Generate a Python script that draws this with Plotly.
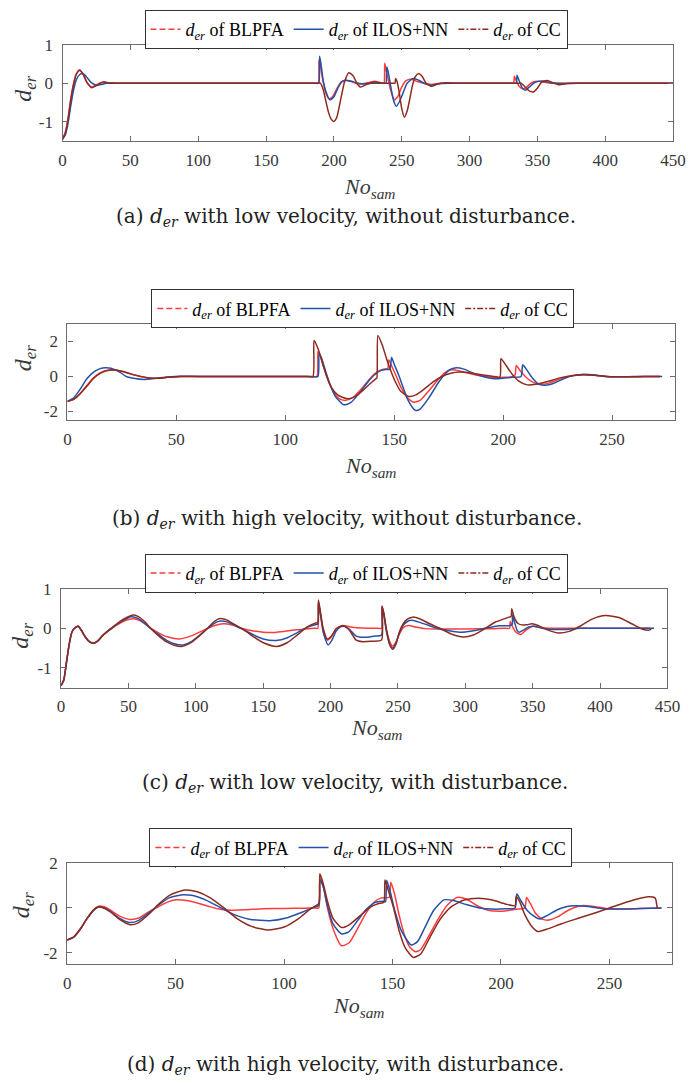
import plotly.graph_objects as go

# ---------------- data ----------------
SERIES_NAMES = ["<i>d</i><sub><i>er</i></sub> of BLPFA",
                "<i>d</i><sub><i>er</i></sub> of ILOS+NN",
                "<i>d</i><sub><i>er</i></sub> of CC"]

X_TICKS_450 = [0, 50, 100, 150, 200, 250, 300, 350, 400, 450]
X_TICKS_280 = [0, 50, 100, 150, 200, 250]
Y_TICKS_1 = [-1, 0, 1]
Y_TICKS_1_TEXT = ["-1", "0", "1"]
Y_TICKS_2 = [-2, 0, 2]
Y_TICKS_2_TEXT = ["-2", "0", "2"]

CAPTIONS = [
    "(a) <i>d</i><sub><i>er</i></sub> with low velocity, without disturbance.",
    "(b) <i>d</i><sub><i>er</i></sub> with high velocity, without disturbance.",
    "(c) <i>d</i><sub><i>er</i></sub> with low velocity, with disturbance.",
    "(d) <i>d</i><sub><i>er</i></sub> with high velocity, with disturbance.",
]

# panel (a): low velocity, without disturbance
A_BLPFA = [(0,-1.45),(2,-1.28),(4,-0.92),(6,-0.42),(8,-0.03),(10,0.23),(12.5,0.33),(15,0.24),(18,0.02),
           (21.5,-0.1),(25,-0.04),(30,0.03),(35,0.0),(50,0.0),(80,0.0),(120,0.0),(160,0.0),(180,0.0),(186,0.0),
           (188.5,0.0),(189,0.6),(190,0.45),(192,0.05),(194,-0.25),
           (196.5,-0.4),(199,-0.35),(202,-0.15),(205,0.02),(208,0.08),(212,0.05),(216,0.0),(220,-0.02),(226,0.02),
           (230,0.05),(234,0.02),(236,0.0),(237,0.0),(237.5,0.52),(238.5,0.35),(240,0.1),(242,-0.2),(244.5,-0.43),
           (247,-0.35),(250,-0.1),(253,0.06),(257,0.1),(261,0.05),(266,0.0),(272,-0.03),(278,0.0),(290,0.0),
           (310,0.0),(325,0.0),(331,0.0),(332.5,0.0),(333,0.18),(334,0.1),(336.5,-0.08),(339.5,-0.15),(342,-0.1),
           (346,0.02),(351,0.05),(356,0.02),(362,0.0),(380,0.0),(410,0.0),(450,0.0)]
A_ILOS = [(0,-1.45),(2,-1.35),(4,-1.05),(6,-0.6),(8,-0.2),(10,0.08),(12.5,0.22),(15,0.25),(18,0.15),(21,0.02),
          (25,-0.05),(29,-0.03),(34,0.01),(40,0.0),(60,0.0),(90,0.0),(120,0.0),(150,0.0),(175,0.0),(185,0.0),
          (188,0.0),(189,0.0),(189.5,0.7),(190.5,0.5),(192,0.1),(194,-0.2),(197,-0.43),
          (200,-0.35),(203,-0.12),(206,0.04),(209,0.08),(213,0.05),(218,0.0),(222,-0.02),(228,0.0),(233,0.0),
          (236,0.0),(238,0.0),(238.5,0.0),(239,0.42),(240,0.3),(242,-0.1),(244,-0.45),(246,-0.6),(248,-0.5),
          (251,-0.25),(254,0.0),(258.5,0.12),(263,0.07),(267,-0.01),(272,-0.05),(278,-0.01),(285,0.0),(300,0.0),
          (320,0.0),(330,0.0),(333.5,0.0),(334.5,0.0),(335,0.21),(336,0.12),(338.5,-0.1),
          (341,-0.18),(344,-0.1),(348,0.02),(354,0.06),(360,0.01),(367,-0.01),(375,0.0),(400,0.0),(430,0.0),
          (450,0.0)]
A_CC = [(0,-1.45),(2,-1.3),(4,-0.95),(6,-0.45),(8,-0.05),(10,0.22),(12.5,0.34),(15,0.25),(18,0.02),(21.5,-0.12),
        (25,-0.06),(30,0.035),(35,0.0),(40,0.0),(70,0.0),(100,0.0),(130,0.0),(160,0.0),(180,0.0),(187,0.0),
        (190,0.0),(192,-0.15),(194,-0.45),(196,-0.75),(198,-0.93),(200,-0.99),
        (202,-0.9),(204,-0.6),(206,-0.25),(208,0.05),(211,0.27),(214,0.2),(217,0.0),(219.5,-0.1),(223,-0.05),
        (229.5,0.03),(235,0.0),(240,0.0),(243,0.0),(245,0.0),(245.5,0.12),(246.5,0.05),(248,-0.2),(250,-0.65),
        (252,-0.88),(254,-0.72),(256,-0.4),(258,-0.05),(260,0.17),(262.5,0.25),(265,0.18),(268,0.0),(272,-0.08),
        (276,-0.03),(282,0.01),(290,0.0),(310,0.0),(325,0.0),(335,0.0),(338,0.0),(341,-0.1),(344,-0.2),
        (347.5,-0.22),(350,-0.13),(353,0.02),(357,0.07),(361,0.02),(366,-0.04),(372,-0.01),(380,0.0),(410,0.0),
        (450,0.0)]

# panel (b): high velocity, without disturbance
B_BLPFA = [(0,-1.43),(3,-1.3),(6,-0.95),(9,-0.5),(12,-0.08),(15,0.2),(18,0.35),(21,0.38),(25,0.3),(29,0.15),
           (33,0.01),(37,-0.08),(41,-0.1),(46,-0.05),(52,0.0),(65,0.0),(80,0.0),(95,0.0),(105,0.0),(111,0.0),
           (114.5,0.0),(115,1.45),(116,1.2),(118,0.4),(120,-0.3),
           (122,-0.85),(124.5,-1.25),(127.5,-1.37),(131,-1.2),(135,-0.7),(139,-0.1),(142,0.25),(145,0.42),(147,0.45),
           (147.5,0.95),(149,0.55),(151,0.0),(153,-0.6),(156,-1.2),(159,-1.47),(162,-1.35),(166,-0.8),(170,-0.2),
           (173,0.2),(176,0.38),(180,0.32),(185,0.15),(190,0.03),(195,-0.04),(200,-0.05),(204,-0.02),(205.5,0.1),
           (206,0.63),(208,0.3),(211,-0.1),(214,-0.35),(217,-0.45),(221,-0.38),(226,-0.15),(231,0.02),(236,0.1),
           (241,0.08),(247,0.0),(255,-0.02),(265,0.0),(272,0.0)]
B_ILOS = [(0,-1.43),(3,-1.2),(6,-0.7),(9,-0.12),(12,0.25),(15,0.45),(17.5,0.5),(20,0.47),(24,0.25),(27,0.0),
          (31,-0.12),(35,-0.17),(40,-0.12),(46,-0.03),(52,0.02),(60,0.0),(75,0.0),(90,0.0),(105,0.0),(112,0.0),
          (115,0.0),(115.5,1.3),(116.5,1.1),
          (118.5,0.3),(120.5,-0.45),(123,-1.15),(126.9,-1.62),(130,-1.5),(134,-0.95),(138,-0.3),(141,0.1),(144,0.35),
          (146,0.4),(148,0.42),(148.8,1.09),(150,0.7),(152,0.1),(154,-0.6),(156.5,-1.4),(159.7,-1.94),(162,-1.85),
          (166,-1.2),(170,-0.4),(173,0.1),(176,0.42),(178.5,0.5),(182,0.42),(187,0.15),(192,-0.05),(196,-0.13),
          (200,-0.1),(204,-0.04),(208.2,0.0),(209,0.67),(211,0.35),(213.5,-0.1),(216.5,-0.45),(219.5,-0.5),
          (223,-0.4),(228,-0.12),(232,0.05),(236,0.12),(241,0.1),(246,0.02),(252,-0.02),(260,0.0),(273,0.0)]
B_CC = [(0,-1.43),(3,-1.3),(6,-0.97),(9,-0.55),(12,-0.1),(15,0.18),(18,0.33),(21,0.37),(25,0.3),(29,0.15),
        (33,0.02),(37,-0.07),(41,-0.1),(46,-0.05),(52,0.0),(65,0.0),(80,0.0),(95,0.0),(105,0.0),(110,0.0),
        (112.7,0.0),(113.2,2.06),(115,1.6),(117,0.8),(119,0.0),
        (121,-0.6),(124,-1.05),(128.5,-1.28),(132,-1.15),(136,-0.75),(139,-0.4),(141.5,-0.13),(142,-0.1),
        (142.5,2.35),(144.5,1.8),(146.5,1.0),(148.5,0.3),(150.5,-0.3),(153,-0.85),(156.7,-1.14),(160,-1.05),
        (164,-0.7),(168,-0.3),(172,0.0),(176,0.18),(180,0.25),(185,0.2),(190,0.1),(195,0.02),(198.5,-0.04),
        (199,1.01),(201.5,0.6),(204,0.15),(207,-0.25),(211,-0.48),(215,-0.45),(220,-0.3),(226,-0.08),(232,0.06),
        (237,0.1),(242,0.07),(248,0.0),(256,-0.02),(265,0.0),(272,0.0)]

# panel (c): low velocity, with disturbance
C_BLPFA = [(0,-1.45),(2,-1.3),(4,-0.85),(6,-0.4),(8,-0.1),(10,0.0),(12.7,0.05),(15,-0.05),(18,-0.22),(21,-0.34),
           (24,-0.38),(27,-0.32),(31,-0.18),(36,-0.05),(41,0.07),(46,0.17),(50,0.22),(54,0.24),(58,0.2),(63,0.1),
           (68,-0.03),(74,-0.15),(80,-0.23),(88,-0.27),(96,-0.2),(104,-0.08),(110,0.02),(116,0.09),(121,0.11),
           (127,0.08),(134,0.0),(141,-0.06),(150,-0.1),(157,-0.11),(165,-0.08),(175,-0.04),(183,-0.01),(188,0.0),
           (190.5,0.0),(191,0.62),(192.5,0.35),(194.5,-0.1),(197.5,-0.3),(200.5,-0.22),(204,-0.02),(209,0.07),
           (214,0.04),(220,0.01),(228,0.0),(234,0.0),(237.8,0.0),(238.2,0.52),(239.5,0.35),(241.5,-0.05),
           (244,-0.35),(246,-0.45),(248.5,-0.35),(251,-0.15),(254,0.02),(258,0.07),(263,0.03),(270,-0.01),
           (280,-0.02),(300,-0.02),(320,-0.01),(328,0.0),(332.8,0.0),(333.3,0.17),(334.5,0.08),(337,-0.08),
           (341,-0.16),(345,-0.05),(350,0.05),(355,0.02),(362,0.0),(380,0.0),(400,0.0),(420,0.0),(437,0.0)]
C_ILOS = [(0,-1.45),(2,-1.32),(4,-0.88),(6,-0.42),(8,-0.1),(10,0.0),(12.7,0.05),(15,-0.05),(18,-0.22),(21,-0.34),
          (24,-0.38),(27,-0.33),(31,-0.18),(36,-0.04),(41,0.09),(46,0.2),(51.9,0.29),(56,0.26),(61,0.15),(66,0.0),
          (72,-0.15),(78,-0.3),(84,-0.39),(90.6,-0.42),(97,-0.33),(103,-0.17),(109,0.0),(114,0.13),(118.4,0.18),
          (123,0.16),(129,0.07),(136,-0.05),(143,-0.17),(150,-0.27),(159.5,-0.31),(168,-0.24),(176,-0.1),(183,0.03),
          (188.6,0.09),(190.5,0.1),(191,0.66),(192.5,0.35),(195,-0.15),(198.2,-0.42),(201,-0.3),(204,-0.08),
          (207,0.03),(210,0.05),(214,-0.03),(219,-0.2),(225,-0.23),(232,-0.2),(237.8,-0.17),(238.2,0.55),
          (239.5,0.35),(241.5,-0.1),(244,-0.42),(246,-0.5),(248.5,-0.38),(251,-0.12),(254,0.08),(257,0.17),
          (260,0.2),(265,0.16),(272,0.08),(279,0.0),(287,-0.06),(296,-0.1),(305,-0.07),(315,0.0),(325,0.06),
          (334.5,0.08),(335,0.33),(336.5,0.15),(338.5,-0.06),(340,-0.1),(343,-0.05),(347,0.03),(351,0.05),
          (357,0.0),(365,-0.03),(375,-0.03),(385,0.0),(405,0.0),(425,0.0),(440,0.0)]
C_CC = [(0,-1.45),(2,-1.3),(4,-0.85),(6,-0.4),(8,-0.1),(10,0.0),(12.7,0.05),(15,-0.05),(18,-0.22),(21,-0.34),
        (24,-0.38),(27,-0.33),(31,-0.18),(36,-0.03),(41,0.1),(46,0.22),(52.6,0.33),(57,0.3),(62,0.17),(66.4,0.0),
        (72,-0.18),(78,-0.34),(84,-0.43),(89.4,-0.46),(96,-0.37),(103,-0.18),(108.7,0.0),(113,0.15),(117.2,0.24),
        (122,0.22),(128,0.11),(136,-0.05),(143,-0.22),(151,-0.38),(160,-0.46),(168,-0.36),(176,-0.15),(183,0.04),
        (189,0.13),(190.5,0.14),(191,0.71),(192.5,0.4),(194.5,0.0),(197.5,-0.27),(200.5,-0.2),(204,-0.02),
        (207.5,0.05),(210,0.06),(214,-0.05),(219,-0.3),(224,-0.34),(230,-0.33),(237.8,-0.3),(238.2,0.56),
        (239.5,0.38),(241.5,-0.05),(244,-0.42),(246.1,-0.53),(248.5,-0.4),(251,-0.1),(254,0.12),(257,0.23),
        (261.1,0.28),(266,0.24),(273,0.12),(281,0.0),(290,-0.15),(298.6,-0.22),(306,-0.17),(314,-0.02),(322,0.15),
        (332.5,0.28),(334,0.3),(334.4,0.49),(336,0.3),(339,0.12),(343,0.08),(346,0.09),(349.4,0.11),(354,0.07),
        (360,-0.03),(368.8,-0.12),(377,-0.08),(385,0.05),(394,0.23),(404,0.32),(414,0.27),(423,0.12),(431,-0.02),
        (436,-0.05),(438,-0.03)]

# panel (d): high velocity, with disturbance
D_BLPFA = [(0,-1.43),(3,-1.3),(6,-0.95),(9,-0.5),(12,-0.1),(14.5,0.08),(17,0.05),(20,-0.1),(24,-0.35),(29,-0.51),
           (33,-0.45),(38,-0.15),(42,0.05),(46,0.25),(50.2,0.36),(55,0.33),(60,0.22),(65,0.08),(70,-0.05),(75,-0.1),
           (82,-0.08),(90,-0.04),(100,-0.02),(110,-0.01),(114,0.0),(116,0.0),(116.5,1.3),(118,1.0),(120,0.0),
           (122.5,-0.9),(126.5,-1.68),(130,-1.55),(134,-0.9),(138,-0.2),(142,0.3),(145,0.45),(148.5,0.48),
           (149.2,1.14),(151,0.6),(153,-0.3),(155.5,-1.2),(158,-1.75),(160.6,-1.95),(163,-1.85),(167,-1.2),
           (171,-0.5),(175,0.1),(179.7,0.47),(184,0.4),(189,0.1),(194,-0.1),(199,-0.15),(204,-0.1),(208,-0.05),
           (211,0.0),(211.8,0.47),(213.5,0.2),(216,-0.25),(219,-0.5),(222,-0.54),(226,-0.4),(231,-0.1),(237,0.1),
           (242,0.08),(249,-0.03),(256,-0.05),(264,-0.02),(274,0.0)]
D_ILOS = [(0,-1.43),(3,-1.3),(6,-0.95),(9,-0.5),(12,-0.12),(14.1,0.03),(17,0.0),(20,-0.15),(24,-0.45),(29,-0.65),
          (33,-0.55),(38,-0.2),(42,0.12),(47,0.45),(53.2,0.59),(58,0.55),(64,0.35),(70,0.05),(76,-0.25),(84,-0.5),
          (93.4,-0.57),(101,-0.45),(108,-0.2),(113,0.0),(116,0.12),(116.5,1.25),(118,0.95),(120,0.1),(122.5,-0.7),
          (126.5,-1.16),(130,-1.05),(134,-0.55),(138,-0.05),(142,0.25),(146,0.3),(146.8,0.28),(147.3,1.23),
          (149,0.7),(151,-0.1),(154,-1.0),(158.6,-1.65),(161.5,-1.5),(165,-0.85),(169,-0.1),(173.7,0.36),(178,0.33),
          (184,0.15),(190,0.0),(196,-0.05),(202,-0.04),(206.5,0.0),(207.3,0.62),(209,0.35),(212,-0.1),(215,-0.35),
          (217.8,-0.49),(221,-0.35),(226,-0.08),(230,0.05),(234,0.1),(240,0.07),(247,-0.03),(255,-0.05),
          (264,-0.02),(274,0.0)]
D_CC = [(0,-1.43),(3,-1.3),(6,-0.95),(9,-0.5),(12,-0.12),(14.1,0.03),(17,0.0),(20,-0.18),(24,-0.5),(29.1,-0.75),
        (33,-0.65),(38,-0.25),(42,0.15),(47,0.55),(54.2,0.8),(60,0.72),(66,0.45),(72.3,0.0),(78,-0.45),(85,-0.82),
        (92.3,-0.98),(100,-0.85),(107,-0.45),(112,-0.05),(116,0.2),(116.5,1.52),(118,1.1),(120,0.3),(122.5,-0.45),
        (126.5,-0.87),(130,-0.75),(135,-0.35),(140,0.05),(143.6,0.2),(146,0.25),(146.5,1.25),(148,0.8),(150.5,0.0),
        (153,-1.0),(156,-1.8),(159.6,-2.2),(163,-2.05),(167,-1.35),(172,-0.5),(177,0.05),(183,0.35),(189.7,0.43),
        (196,0.35),(202,0.18),(206.5,0.1),(207,0.5),(208.5,0.3),(211,-0.3),(214,-0.8),(217,-1.05),(221,-0.95),
        (228,-0.7),(236,-0.45),(244,-0.2),(250,0.0),(256,0.2),(262,0.38),(268,0.5),(271,0.45),(272,0.0)]

# ---------------- styling / layout ----------------
W, H = 700, 1083
COLORS = ["#ff3b3b", "#2352a8", "#8c2b1f"]
LEGEND_DASHES = ["6px,3px", "solid", "6px,2px,2px,2px"]
AX_COLOR = "#6b6b6b"
TXT_COLOR = "#383838"
SERIF = "Liberation Serif"

def fx(p):
    return p / W

def fy(p):
    return 1 - p / H

PANELS = [
    dict(data=(A_BLPFA, A_ILOS, A_CC), xpx=(60, 685.7), ypx=(36, 133.3), xr=[0, 450], yr=[-1.5, 1],
         xt=X_TICKS_450, yt=Y_TICKS_1, ytt=Y_TICKS_1_TEXT, leg=(144, 1), ytitle=(22, 80), xtitle=(375, 181),
         cap=(350, 210)),
    dict(data=(B_BLPFA, B_ILOS, B_CC), xpx=(65, 688), ypx=(318, 415), xr=[0, 279], yr=[-2.5, 3],
         xt=X_TICKS_280, yt=Y_TICKS_2, ytt=Y_TICKS_2_TEXT, leg=(151, 283), ytitle=(21, 352), xtitle=(376, 462),
         cap=(352, 515)),
    dict(data=(C_BLPFA, C_ILOS, C_CC), xpx=(58.5, 680), ypx=(585, 685), xr=[0, 450], yr=[-1.5, 1],
         xt=X_TICKS_450, yt=Y_TICKS_1, ytt=Y_TICKS_1_TEXT, leg=(144, 550), ytitle=(19, 633), xtitle=(382, 727),
         cap=(360, 781)),
    dict(data=(D_BLPFA, D_ILOS, D_CC), xpx=(64.7, 685), ypx=(862, 964), xr=[0, 279], yr=[-2.5, 2],
         xt=X_TICKS_280, yt=Y_TICKS_2, ytt=Y_TICKS_2_TEXT, leg=(149, 827), ytitle=(19, 905), xtitle=(364, 1007),
         cap=(350, 1066)),
]

fig = go.Figure()
layout = dict(width=W, height=H, margin=dict(l=0, r=0, t=0, b=0), paper_bgcolor="white",
              plot_bgcolor="white", showlegend=True, annotations=[])

for i, p in enumerate(PANELS):
    sfx = "" if i == 0 else str(i + 1)
    xa, ya, lg = "x" + sfx, "y" + sfx, "legend" + sfx
    for k, series in enumerate(p["data"]):
        # the data curve (densely sampled in the original, so it renders as a continuous line)
        fig.add_trace(go.Scatter(
            x=[pt[0] for pt in series], y=[pt[1] for pt in series], mode="lines",
            name=SERIES_NAMES[k], xaxis=xa, yaxis=ya, legend=lg, showlegend=False,
            line=dict(color=COLORS[k], width=1.5, shape="spline", smoothing=0.6),
        ))
    for k in range(3):
        # legend key showing each series' line style
        fig.add_trace(go.Scatter(
            x=[None], y=[None], mode="lines", name=SERIES_NAMES[k], xaxis=xa, yaxis=ya, legend=lg,
            line=dict(color=COLORS[k], width=1.5, dash=LEGEND_DASHES[k]),
        ))
    axis_common = dict(showline=True, linecolor=AX_COLOR, linewidth=1.2, mirror="ticks", ticks="inside",
                       ticklen=5, tickcolor=AX_COLOR, tickwidth=1, showgrid=False, zeroline=False,
                       tickfont=dict(family=SERIF, size=17, color=TXT_COLOR))
    layout["xaxis" + sfx] = dict(domain=[fx(p["xpx"][0]), fx(p["xpx"][1])], anchor=ya, range=p["xr"],
                                 tickvals=p["xt"], ticklabelstandoff=3, **axis_common)
    layout["yaxis" + sfx] = dict(domain=[fy(p["ypx"][1]), fy(p["ypx"][0])], anchor=xa, range=p["yr"],
                                 tickvals=p["yt"], ticktext=p["ytt"], ticklabelstandoff=5, **axis_common)
    layout[lg] = dict(x=fx(p["leg"][0]), y=fy(p["leg"][1]), xanchor="left", yanchor="top",
                      orientation="h", bgcolor="white", bordercolor="#333333", borderwidth=1,
                      font=dict(family=SERIF, size=18, color="black"), itemwidth=30,
                      tracegroupgap=0)
    layout["annotations"] += [
        dict(text="<i>d</i><sub><i>er</i></sub>", x=fx(p["ytitle"][0]), y=fy(p["ytitle"][1]),
             xref="paper", yref="paper", textangle=-90, showarrow=False, xanchor="center", yanchor="middle",
             font=dict(family=SERIF, size=24, color=TXT_COLOR)),
        dict(text="<i>No</i><sub><i>sam</i></sub>", x=fx(p["xtitle"][0]), y=fy(p["xtitle"][1]),
             xref="paper", yref="paper", showarrow=False, xanchor="center", yanchor="middle",
             font=dict(family=SERIF, size=22, color=TXT_COLOR)),
        dict(text=CAPTIONS[i], x=fx(p["cap"][0]), y=fy(p["cap"][1]), xref="paper", yref="paper",
             showarrow=False, xanchor="center", yanchor="middle",
             font=dict(family="DejaVu Serif", size=20, color="#222222")),
    ]

fig.update_layout(**layout)
fig.write_html("out.html")
